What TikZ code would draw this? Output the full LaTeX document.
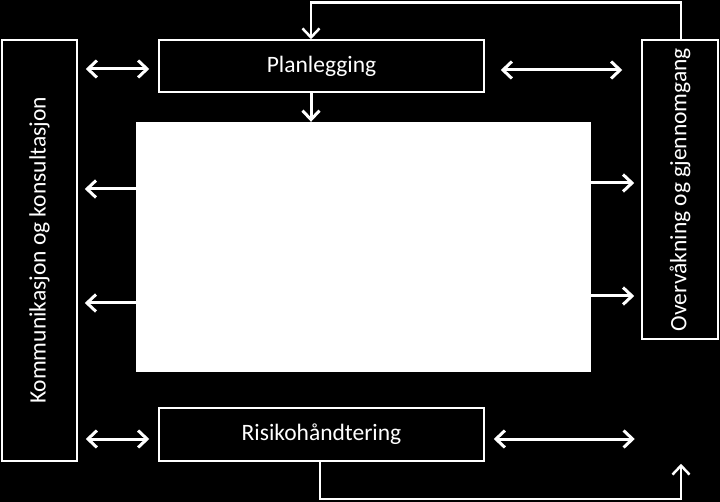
\documentclass[tikz,border=0pt]{standalone}
\usepackage{fontspec}
\setmainfont{Carlito}
\usetikzlibrary{arrows.meta}
\begin{document}
\begin{tikzpicture}[x=1pt,y=-1pt,
  box/.style={draw=white,line width=1.5pt,fill=black,text=white,inner sep=0pt,
    font=\fontsize{23.5}{28}\selectfont},
  arr/.style={draw=white,line width=3pt,-{Straight Barb[length=9pt,width=17pt]}},
  loop/.style={draw=white,line width=2.5pt,-{Straight Barb[length=9pt,width=17pt]}},
  dbl/.style={draw=white,line width=3pt,{Straight Barb[length=9pt,width=17pt]}-{Straight Barb[length=9pt,width=17pt]}}]
\fill[black] (0,0) rectangle (720,502);
\useasboundingbox (0,0) rectangle (720,502);
\node[box,minimum width=75pt,minimum height=421pt] (komm) at (39.5,250.5) {\rotatebox{90}{Kommunikasjon og konsultasjon}};
\node[box,minimum width=325pt,minimum height=52pt] (plan) at (321.5,66) {Planlegging};
\node[box,minimum width=76pt,minimum height=299pt] (over) at (680,189.5) {\rotatebox{90}{Overvåkning og gjennomgang}};
\node[box,minimum width=325pt,minimum height=53pt] (risk) at (321.5,434.5) {Risikohåndtering};
\node[draw=white,fill=white,minimum width=454pt,minimum height=249pt,inner sep=0pt] (core) at (363,246.5) {};
% loops
\draw[loop] ([xshift=1pt]over.north) -- ++(0,-36.5) -| ([xshift=-10.5pt]plan.north);
\draw[loop] ([xshift=-1.5pt]risk.south) -- ++(0,37) -- ++(361,0) -- ++(0,-35);
% planlegging to core
\draw[arr] ([xshift=-10.5pt]plan.south) -- ([xshift=-10.5pt]plan.south |- core.north);
% double arrows
\draw[dbl] ([xshift=8pt,yshift=-3pt]komm.east |- plan.west) -- ([xshift=-9pt,yshift=-3pt]plan.west);
\draw[dbl] ([xshift=16pt,yshift=-4pt]plan.east) -- ([xshift=-19pt,yshift=-4pt]over.west |- plan.east);
\draw[dbl] ([xshift=8pt,yshift=-4.5pt]komm.east |- risk.west) -- ([xshift=-9pt,yshift=-4.5pt]risk.west);
\draw[dbl] ([xshift=9pt,yshift=-4.5pt]risk.east) -- ++(141,0);
% core to sides
\draw[arr] ([yshift=57.5pt]core.west) -- ++(-51,0);
\draw[arr] ([yshift=-56.5pt]core.west) -- ++(-51,0);
\draw[arr] ([yshift=63.5pt]core.east) -- ++(44,0);
\draw[arr] ([yshift=-49.5pt]core.east) -- ++(44,0);
\end{tikzpicture}
\end{document}
